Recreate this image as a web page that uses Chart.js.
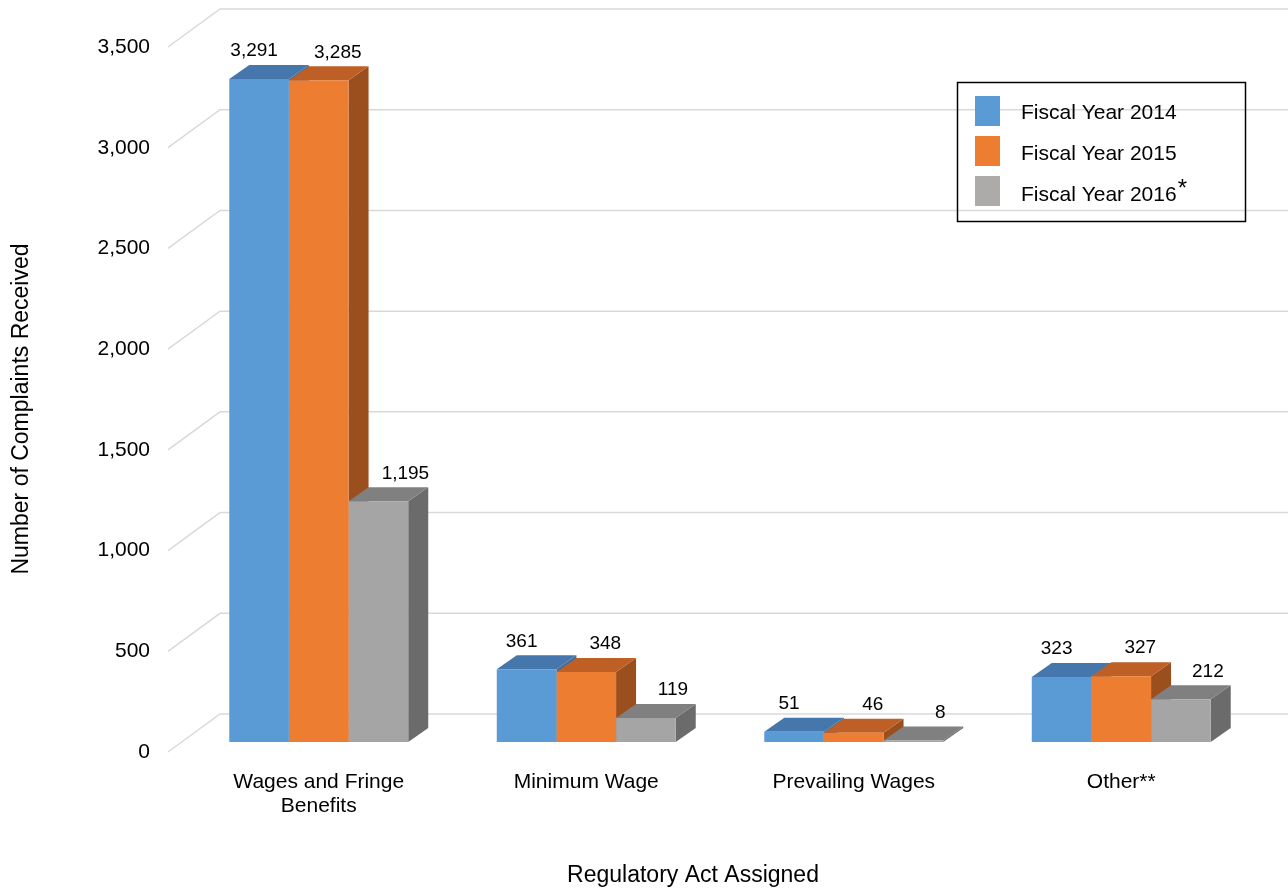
<!DOCTYPE html>
<html>
<head>
<meta charset="utf-8">
<script src="https://cdn.jsdelivr.net/npm/chart.js@4.4.1/dist/chart.umd.min.js"></script>
<style>
  body { margin: 0; background: #fff; }
  #wrap { width: 1288px; height: 890px; }
</style>
</head>
<body>
<div id="wrap"><canvas id="complaintsChart" width="1288" height="890"></canvas></div>
<script>
// values
const categories = [['Wages and Fringe', 'Benefits'], 'Minimum Wage', 'Prevailing Wages', 'Other**'];
const fy2014 = [3291, 361, 51, 323];
const fy2015 = [3285, 348, 46, 327];
const fy2016 = [1195, 119, 8, 212];
const seriesNames = ['Fiscal Year 2014', 'Fiscal Year 2015', 'Fiscal Year 2016*'];
const yMax = 3500;
const yStep = 500;

const FONT = "'Liberation Sans', Arial, sans-serif";
const DEPTH = { dx: 20, dy: 14 };

const fmt = v => v.toLocaleString('en-US');

// gridlines, bar sides and tops (drawn before the flat fronts)
const bars3d = {
    id: 'bars3d',
    beforeDatasetsDraw(chart) {
        const ctx = chart.ctx;
        const y = chart.scales.y;
        const area = chart.chartArea;
        ctx.save();
        ctx.strokeStyle = '#d9d9d9';
        ctx.lineWidth = 1.5;
        y.ticks.forEach(t => {
            const yb = y.getPixelForValue(t.value) - 28;
            ctx.beginPath();
            ctx.moveTo(area.left - 17, yb + 38);
            ctx.lineTo(area.left + 35, yb);
            ctx.lineTo(chart.width, yb);
            ctx.stroke();
        });

        const n = chart.data.labels.length;
        for (let i = 0; i < n; i++) {
            chart.data.datasets.forEach((ds, d) => {
                const bar = chart.getDatasetMeta(d).data[i];
                const p = bar.getProps(['x', 'y', 'base', 'width'], true);
                const x0 = p.x - p.width / 2, x1 = p.x + p.width / 2;
                ctx.fillStyle = ds.sideColor;
                ctx.beginPath();
                ctx.moveTo(x1, p.y);
                ctx.lineTo(x1 + DEPTH.dx, p.y - DEPTH.dy);
                ctx.lineTo(x1 + DEPTH.dx, p.base - DEPTH.dy);
                ctx.lineTo(x1, p.base);
                ctx.closePath();
                ctx.fill();
                ctx.fillStyle = ds.topColor;
                ctx.beginPath();
                ctx.moveTo(x0, p.y);
                ctx.lineTo(x0 + DEPTH.dx, p.y - DEPTH.dy);
                ctx.lineTo(x1 + DEPTH.dx, p.y - DEPTH.dy);
                ctx.lineTo(x1, p.y);
                ctx.closePath();
                ctx.fill();
            });
        }
        ctx.restore();
    },
    afterDatasetsDraw(chart) {
        const ctx = chart.ctx;
        ctx.save();
        ctx.fillStyle = '#000';
        ctx.font = '19px ' + FONT;
        ctx.textAlign = 'center';
        ctx.textBaseline = 'middle';
        chart.data.datasets.forEach((ds, d) => {
            chart.getDatasetMeta(d).data.forEach((bar, i) => {
                const p = bar.getProps(['x', 'y'], true);
                ctx.fillText(fmt(ds.data[i]), p.x + ds.labelShift, p.y - DEPTH.dy - 14);
            });
        });
        ctx.restore();
    },
    afterDraw(chart) {
        const ctx = chart.ctx;
        ctx.save();
        ctx.fillStyle = '#000';
        // axis titles
        ctx.font = '23px ' + FONT;
        ctx.textAlign = 'center';
        ctx.textBaseline = 'middle';
        ctx.fillText('Regulatory Act Assigned', 693, 876);
        ctx.save();
        ctx.translate(22, 409);
        ctx.rotate(-Math.PI / 2);
        ctx.fillText('Number of Complaints Received', 0, 0);
        ctx.restore();

        // legend box
        ctx.strokeStyle = '#000';
        ctx.lineWidth = 1.5;
        ctx.strokeRect(957.5, 82.5, 288, 139);
        ctx.textAlign = 'left';
        chart.data.datasets.forEach((ds, d) => {
            const yc = 111 + d * 40;
            const yt = 113 + d * 41;
            ctx.fillStyle = ds.legendColor || ds.backgroundColor;
            ctx.fillRect(975, yc - 15, 25, 30);
            ctx.fillStyle = '#000';
            ctx.font = '21px ' + FONT;
            let label = ds.label, star = '';
            const m = label.match(/^(.*?)(\*+)$/);
            if (m) { label = m[1]; star = m[2]; }
            ctx.fillText(label, 1021, yt);
            if (star) {
                const w = ctx.measureText(label).width;
                ctx.font = '24px ' + FONT;
                ctx.fillText(star, 1021 + w + 1, yt - 6);
            }
        });
        ctx.restore();
    }
};

const ctx = document.getElementById('complaintsChart').getContext('2d');
new Chart(ctx, {
    type: 'bar',
    data: {
        labels: categories,
        datasets: [{
            label: seriesNames[0],
            data: fy2014,
            backgroundColor: '#5B9BD5',
            topColor: '#4677AC',
            sideColor: '#3F6E9E',
            labelShift: -5
        }, {
            label: seriesNames[1],
            data: fy2015,
            backgroundColor: '#ED7D31',
            topColor: '#BE5F25',
            sideColor: '#9C4F1E',
            labelShift: 19
        }, {
            label: seriesNames[2],
            data: fy2016,
            backgroundColor: '#A5A5A5',
            topColor: '#808080',
            sideColor: '#6B6B6B',
            legendColor: '#ADAAAA',
            labelShift: 27
        }]
    },
    options: {
        responsive: false,
        animation: false,
        devicePixelRatio: 1,
        layout: { padding: { top: 37, right: 33, bottom: 0, left: 0 } },
        datasets: { bar: { categoryPercentage: 0.669, barPercentage: 1, borderWidth: 0 } },
        plugins: {
            legend: { display: false },
            tooltip: { enabled: false }
        },
        scales: {
            x: {
                grid: { display: false },
                border: { display: false },
                ticks: {
                    color: '#000',
                    font: { family: FONT, size: 21, lineHeight: 1.15 },
                    padding: 20,
                    maxRotation: 0,
                    autoSkip: false
                },
                afterFit: s => { s.height = 148; }
            },
            y: {
                min: 0,
                max: yMax,
                grid: { display: false, drawTicks: false },
                border: { display: false },
                ticks: {
                    stepSize: yStep,
                    color: '#000',
                    font: { family: FONT, size: 21 },
                    padding: 35,
                    labelOffset: 10,
                    callback: v => fmt(v)
                },
                afterFit: s => { s.width = 185; s.paddingTop = 0; s.paddingBottom = 0; }
            }
        }
    },
    plugins: [bars3d]
});
</script>
</body>
</html>
